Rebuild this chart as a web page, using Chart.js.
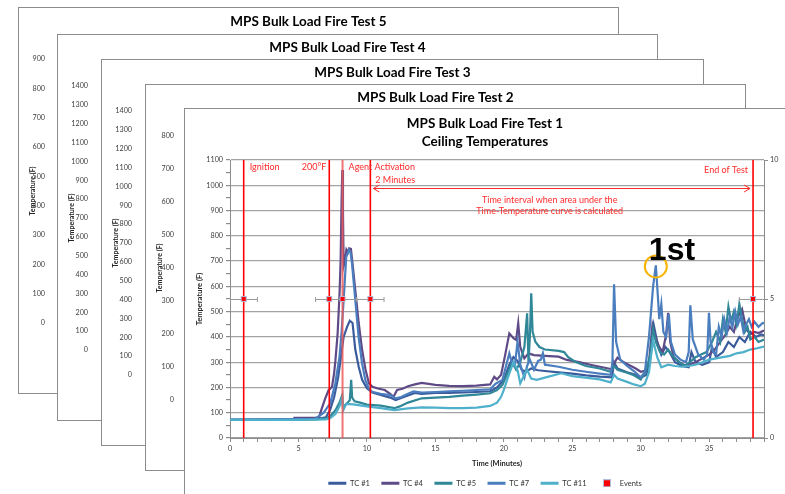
<!DOCTYPE html>
<html><head><meta charset="utf-8">
<script src="https://cdn.jsdelivr.net/npm/chart.js@4.4.1/dist/chart.umd.min.js"></script>
<style>
html,body{margin:0;padding:0;background:#fff;}
#stage{position:relative;width:785px;height:494px;overflow:hidden;background:#fff;}
.panel{position:absolute;box-sizing:border-box;border:1px solid #8c8c8c;background:#fff;}
.panel canvas{position:absolute;left:0;top:0;}
</style></head><body>
<div id="stage">
 <div class="panel" style="left:18px;top:7px;width:601px;height:387px"><canvas id="p5" width="599" height="385"></canvas></div>
 <div class="panel" style="left:57px;top:34px;width:601px;height:387px"><canvas id="p4" width="599" height="385"></canvas></div>
 <div class="panel" style="left:101px;top:59px;width:603px;height:387px"><canvas id="p3" width="601" height="385"></canvas></div>
 <div class="panel" style="left:145px;top:84px;width:601px;height:387px"><canvas id="p2" width="599" height="385"></canvas></div>
 <div class="panel" style="left:184px;top:108px;width:660px;height:420px"><canvas id="main" width="600" height="388"></canvas></div>
</div>
<script>
// ---------- data ----------
const backTitles = ['MPS Bulk Load Fire Test 5','MPS Bulk Load Fire Test 4','MPS Bulk Load Fire Test 3','MPS Bulk Load Fire Test 2'];
const backMax = [900, 1400, 1400, 800];
const mainTitle = ['MPS Bulk Load Fire Test 1', 'Ceiling Temperatures'];

const tc1T = [0,4.7,6.3,7.0,7.3,7.6,7.9,8.1,8.3,8.55,8.75,8.95,9.15,9.4,9.65,10.0,10.4,11.0,11.7,12.1,12.5,13.0,13.5,14.0,15,16,17,18,19,19.5,20.0,20.4,20.7,21.0,21.3,21.6,22.0,22.5,23,24,25,26,27,27.9,28.05,28.3,29,29.5,30.0,30.4,30.7,30.95,31.2,31.5,31.8,32.1,32.5,33,33.5,33.7,34,34.5,35,35.2,35.5,36,36.4,36.8,37.2,37.6,38.0,38.4,38.8,39.3];
const tc1V = [72,74,75,82,110,160,240,320,400,440,464,455,350,282,230,197,180,170,160,150,158,168,178,175,178,178,180,182,185,200,230,290,320,305,270,262,275,268,265,260,255,248,243,240,300,275,260,252,238,250,320,446,380,330,360,340,300,285,280,340,300,290,300,360,320,340,380,360,400,380,420,400,410,400];

const tc4T = [0,4.6,4.7,6.2,6.5,6.7,6.95,7.2,7.45,7.6,7.7,7.86,8.0,8.08,8.15,8.2,8.25,8.3,8.4,8.5,8.6,8.7,8.83,8.95,9.15,9.4,9.65,9.9,10.15,10.4,10.8,11.3,11.7,11.95,12.2,12.6,13.0,13.5,14.0,15,16,17,18,19,19.3,19.5,19.8,20.1,20.4,20.7,20.9,21.05,21.2,21.5,21.8,22.2,23,24,24.6,25.5,26.4,27.2,27.9,28.1,28.3,28.6,29.1,29.6,30.0,30.3,30.6,30.85,31.05,31.3,31.6,31.85,32.0,32.15,32.4,32.8,33.2,33.6,34.0,34.5,35.0,35.4,35.8,36.2,36.5,36.8,37.1,37.4,37.7,38.0,38.3,38.6,39.0,39.3];
const tc4V = [72,72,80,80,82,116,156,189,202,255,307,413,571,703,940,1060,900,680,700,745,735,750,748,690,585,455,348,270,216,203,196,190,175,163,190,195,205,212,218,210,206,205,207,212,242,232,250,330,414,395,388,454,360,315,335,328,325,322,309,300,289,280,272,300,318,305,290,276,262,266,300,446,400,365,340,410,495,380,320,300,288,292,300,315,330,350,380,410,440,420,480,510,430,410,420,415,425,428];

const tc5T = [0,4.7,6.5,7.0,7.3,7.7,8.0,8.2,8.26,8.4,8.6,8.75,8.85,8.92,9.1,9.5,10.0,11,12,12.4,13,14,15,16,17,18,19,19.5,19.9,20.3,20.6,20.9,21.2,21.5,21.7,21.8,21.9,22.0,22.1,22.3,22.6,23,24,24.4,24.7,25.2,26,27,27.8,28.05,28.3,29,29.5,30,30.4,30.7,30.9,31.1,31.4,31.7,32.0,32.4,32.8,33.2,33.6,34,34.4,34.8,35.2,35.5,35.8,36.0,36.2,36.4,36.6,36.8,37.0,37.2,37.4,37.6,37.8,38.0,38.3,38.6,39.0,39.3];
const tc5V = [72,73,75,78,85,110,140,170,112,130,140,150,230,160,145,140,132,128,118,125,140,157,160,163,168,172,177,190,210,260,300,270,300,360,493,300,400,573,420,381,360,350,345,340,320,302,285,275,262,285,270,258,248,232,270,330,430,380,340,330,350,320,300,285,300,320,330,340,380,420,380,470,420,520,460,500,450,530,470,420,440,390,400,380,390,395];

const tc7T = [0,4.7,6.2,6.83,7.32,7.69,8.0,8.15,8.3,8.49,8.6,8.69,8.8,8.91,9.15,9.39,9.64,9.88,10.13,10.37,11.0,11.71,12.1,12.5,13.0,13.4,14.0,15,16,17,18,19,19.4,19.9,20.4,20.6,20.8,21.0,21.2,21.5,21.7,21.9,22.2,22.5,22.7,22.85,23.0,24,25,26,27,27.8,27.93,28.05,28.2,28.5,29,29.5,30.0,30.3,30.6,30.9,31.1,31.25,31.35,31.5,31.65,31.85,32.05,32.2,32.5,32.9,33.3,33.5,33.62,33.8,34.2,34.6,34.85,34.98,35.1,35.3,35.5,35.7,35.9,36.1,36.3,36.5,36.7,36.9,37.1,37.3,37.5,37.7,37.9,38.1,38.3,38.6,38.9,39.3];
const tc7V = [72,75,76,99,137,216,322,420,546,717,730,744,735,691,546,401,296,230,197,183,175,170,157,162,175,184,180,182,185,187,190,193,215,230,335,295,285,381,290,240,285,310,270,305,310,335,290,282,270,262,255,250,300,608,380,310,285,265,240,262,400,600,683,560,470,530,420,400,490,380,330,310,300,340,525,390,330,310,330,495,380,340,330,440,400,470,420,480,440,500,450,480,420,450,470,440,460,440,455,450];

const tc11T = [0,4.7,7.0,7.3,7.7,8.0,8.2,8.27,8.5,9.0,10.0,11,12,13,14,15,16,17,18,19,19.5,19.8,20.0,20.3,20.7,21.0,21.2,21.5,21.7,22.0,22.4,23.2,24.2,25,26.4,27,27.8,28.05,28.3,29,29.5,30.0,30.3,30.6,30.9,31.2,31.5,32,32.5,33,33.5,34,34.5,35,35.5,36,36.5,37,37.5,38,38.5,39,39.3];
const tc11V = [72,72,74,78,95,125,160,110,135,133,125,118,110,117,121,120,118,118,120,127,140,163,190,240,300,269,216,250,270,235,230,242,256,245,236,232,220,250,235,222,212,205,215,260,387,320,280,290,285,282,285,290,300,310,315,320,325,335,340,350,355,362,365];

const seriesNames = ['TC #1','TC #4','TC #5','TC #7','TC #11'];
const seriesColors = ['#3B5C9C','#5E4A86','#2F8797','#4A7EBF','#4EB0CA'];

const eventTimes = [1.0, 7.25, 8.22, 10.25, 38.2];
const eventLabels = ['Ignition', '200\u00B0F', 'Agent Activation', '2 Minutes', 'End of Test'];
const eventLevel = 5;      // on secondary axis
const eventErr = 1;        // horizontal error bar, minutes
const intervalText = ['Time interval when area under the', 'Time-Temperature curve is calculated'];

const FONT = "Lato, 'Open Sans', sans-serif";
Chart.defaults.font.family = FONT;

// ---------- back panels ----------
const backCfg = [
  {id:'p5', titleTop:5, axisW:37},
  {id:'p4', titleTop:4, axisW:41},
  {id:'p3', titleTop:4, axisW:41},
  {id:'p2', titleTop:4, axisW:39}
];
backCfg.forEach((c, i) => {
  new Chart(document.getElementById(c.id), {
    type: 'line',
    data: { datasets: [] },
    options: {
      responsive: false, animation: false, devicePixelRatio: 1, events: [],
      layout: { padding: { top: 0, bottom: 70, left: 0, right: 20 } },
      plugins: {
        legend: { display: false }, tooltip: { enabled: false },
        title: { display: true, text: backTitles[i], color: '#000',
          font: { family: FONT, size: 13.5, weight: 'bold', lineHeight: 18/13.5 },
          padding: { top: c.titleTop, bottom: 51 - 18 - c.titleTop } }
      },
      scales: {
        x: { type: 'linear', display: false, min: 0, max: 39 },
        y: { min: 0, max: backMax[i],
          ticks: { stepSize: 100, padding: 3, color: '#404040', font: { family: FONT, size: 7.2 },
            callback: v => String(v) },
          grid: { display: false }, border: { display: false },
          title: { display: true, text: 'Temperature (F)', color: '#262626',
            font: { family: FONT, size: 7, weight: 'bold' }, padding: { top: 9.5, bottom: 0 } },
          afterFit: s => { s.width = c.axisW; } }
      }
    }
  });
});

// ---------- main chart ----------
const zip = (T, V) => T.map((t, k) => ({ x: t, y: V[k] })).filter(p => p.y !== undefined);
const allT = [tc1T, tc4T, tc5T, tc7T, tc11T];
const allV = [tc1V, tc4V, tc5V, tc7V, tc11V];

const lineSets = seriesNames.map((n, i) => ({
  label: n, data: zip(allT[i], allV[i]), borderColor: seriesColors[i], backgroundColor: seriesColors[i],
  borderWidth: 2.2, pointRadius: 0, tension: 0, fill: false, yAxisID: 'y', order: 5 - i
}));

const eventIcon = document.createElement('canvas');
eventIcon.width = 18; eventIcon.height = 8;
(function(){ const g = eventIcon.getContext('2d');
  g.fillStyle = '#ff0000'; g.fillRect(6, 1, 6, 6);
  g.strokeStyle = '#b0bedc'; g.lineWidth = 1; g.strokeRect(5.5, 0.5, 7, 7); })();

const eventSet = {
  label: 'Events', data: eventTimes.map(t => ({ x: t, y: eventLevel })), yAxisID: 'y2',
  showLine: false, pointStyle: 'rect', pointRadius: 3.6, pointBackgroundColor: '#ff0000',
  pointBorderColor: '#aebcdb', pointBorderWidth: 1, borderColor: '#ff0000', order: 0
};

const RED = '#ff2a2a';
const annot = {
  id: 'annot',
  beforeDatasetDraw(chart, args) {
    if (chart.data.datasets[args.index].label !== 'Events') return;
    const { ctx, chartArea: a, scales: { x, y2 } } = chart;
    ctx.save();
    ctx.beginPath(); ctx.rect(a.left, a.top - 1, a.right - a.left, a.bottom - a.top + 2); ctx.clip();
    eventTimes.forEach((t, i) => {
      const px = x.getPixelForValue(t);
      ctx.strokeStyle = i === 2 ? 'rgba(240,90,90,0.85)' : '#ff0000';
      ctx.lineWidth = i === 2 ? 2 : 1.6;
      ctx.beginPath(); ctx.moveTo(px, a.top); ctx.lineTo(px, a.bottom); ctx.stroke();
    });
    ctx.strokeStyle = '#9a9a9a'; ctx.lineWidth = 1;
    const py = Math.round(y2.getPixelForValue(eventLevel)) + 0.5;
    eventTimes.forEach(t => {
      const x0 = x.getPixelForValue(t - eventErr), x1 = x.getPixelForValue(t + eventErr);
      ctx.beginPath();
      ctx.moveTo(x0, py); ctx.lineTo(x1, py);
      ctx.moveTo(x0, py - 2.5); ctx.lineTo(x0, py + 2.5);
      ctx.moveTo(x1, py - 2.5); ctx.lineTo(x1, py + 2.5);
      ctx.stroke();
    });
    ctx.restore();
  },
  afterDatasetsDraw(chart) {
    const { ctx, chartArea: a, scales: { x, y } } = chart;
    const ex = eventTimes.map(t => x.getPixelForValue(t));
    ctx.save();
    ctx.fillStyle = RED; ctx.font = '9px ' + FONT; ctx.textBaseline = 'middle';
    ctx.textAlign = 'left';  ctx.fillText(eventLabels[0], ex[0] + 6, a.top + 7);
    ctx.textAlign = 'right'; ctx.fillText(eventLabels[1], ex[1] - 3, a.top + 7);
    ctx.textAlign = 'left';  ctx.fillText(eventLabels[2], ex[2] + 6, a.top + 7);
    ctx.textAlign = 'left';  ctx.fillText(eventLabels[3], ex[3] + 5, a.top + 20);
    ctx.textAlign = 'right'; ctx.fillText(eventLabels[4], ex[4] - 5, a.top + 10);
    // double arrow
    const ay = a.top + 28.5, l = ex[3] + 3, r = ex[4] - 3;
    ctx.strokeStyle = RED; ctx.lineWidth = 1;
    ctx.beginPath(); ctx.moveTo(l, ay); ctx.lineTo(r, ay);
    ctx.moveTo(l + 6, ay - 3.5); ctx.lineTo(l, ay); ctx.lineTo(l + 6, ay + 3.5);
    ctx.moveTo(r - 6, ay - 3.5); ctx.lineTo(r, ay); ctx.lineTo(r - 6, ay + 3.5);
    ctx.stroke();
    const cx = (l + r) / 2 - 12;
    ctx.textAlign = 'center';
    ctx.fillText(intervalText[0], cx, a.top + 40);
    ctx.fillText(intervalText[1], cx, a.top + 51);
    // "1st" at TC #7 late peak
    let best = null;
    tc7T.forEach((t, k) => { if (t > 25 && (!best || tc7V[k] > best.v)) best = { t, v: tc7V[k] }; });
    const px = x.getPixelForValue(best.t), py = y.getPixelForValue(best.v);
    ctx.strokeStyle = '#F6B400'; ctx.lineWidth = 2;
    ctx.beginPath(); ctx.arc(px, py + 1, 11, 0, Math.PI * 2); ctx.stroke();
    ctx.fillStyle = '#000'; ctx.font = "bold 32px 'Liberation Sans', Arial, sans-serif";
    ctx.textAlign = 'left'; ctx.textBaseline = 'alphabetic';
    ctx.fillText('1st', px - 7, py - 5);
    ctx.restore();
  }
};

const tickFont = { family: FONT, size: 7.2 };
new Chart(document.getElementById('main'), {
  type: 'line',
  data: { datasets: [...lineSets, eventSet] },
  options: {
    responsive: false, animation: false, devicePixelRatio: 1, events: [],
    layout: { padding: 0 },
    plugins: {
      tooltip: { enabled: false },
      title: { display: true, text: mainTitle, color: '#000',
        font: { family: FONT, size: 13.5, weight: 'bold', lineHeight: 18/13.5 },
        padding: { top: 6, bottom: 9 } },
      legend: { position: 'bottom',
        labels: { usePointStyle: true, pointStyleWidth: 18, padding: 11.5, color: '#333',
          font: { family: FONT, size: 7.5 },
          generateLabels: ch => ch.data.datasets.map((ds, i) => ({
            text: ds.label, datasetIndex: i, hidden: false, fontColor: '#333',
            fillStyle: ds.label === 'Events' ? '#ff0000' : ds.borderColor,
            strokeStyle: ds.borderColor, lineWidth: 3,
            pointStyle: ds.label === 'Events' ? eventIcon : 'line'
          })) } }
    },
    scales: {
      x: { type: 'linear', min: 0, max: 39,
        ticks: { stepSize: 1, autoSkip: false, maxRotation: 0, padding: 2, color: '#404040', font: tickFont,
          callback: v => (v % 5 === 0 ? String(v) : '') },
        grid: { drawOnChartArea: false, tickLength: 4, color: '#8c8c8c' },
        border: { color: '#8c8c8c' },
        title: { display: true, text: 'Time (Minutes)', color: '#262626',
          font: { family: FONT, size: 7.5, weight: 'bold' }, padding: { top: 0, bottom: 0 } },
        afterFit: s => { s.height = 30; } },
      y: { min: 0, max: 1100,
        ticks: { stepSize: 50, autoSkip: false, padding: 3, color: '#404040', font: tickFont,
          callback: v => (v % 100 === 0 ? String(v) : '') },
        grid: { color: c => (c.tick && c.tick.value % 100 === 0 ? '#a3a3a3' : 'rgba(0,0,0,0)'),
          lineWidth: 1.2, tickColor: '#8c8c8c', tickLength: 4 },
        border: { color: '#8c8c8c' },
        title: { display: true, text: 'Temperature (F)', color: '#262626',
          font: { family: FONT, size: 7.5, weight: 'bold' }, padding: { top: 10.5, bottom: 0 } },
        afterFit: s => { s.width = 45; } },
      y2: { position: 'right', min: 0, max: 10,
        ticks: { stepSize: 5, padding: 2, color: '#404040', font: tickFont, callback: v => String(v) },
        grid: { drawOnChartArea: false, tickLength: 4, color: '#8c8c8c' },
        border: { color: '#8c8c8c' },
        afterFit: s => { s.width = 21; } }
    }
  },
  plugins: [annot]
});
</script>
</body></html>
